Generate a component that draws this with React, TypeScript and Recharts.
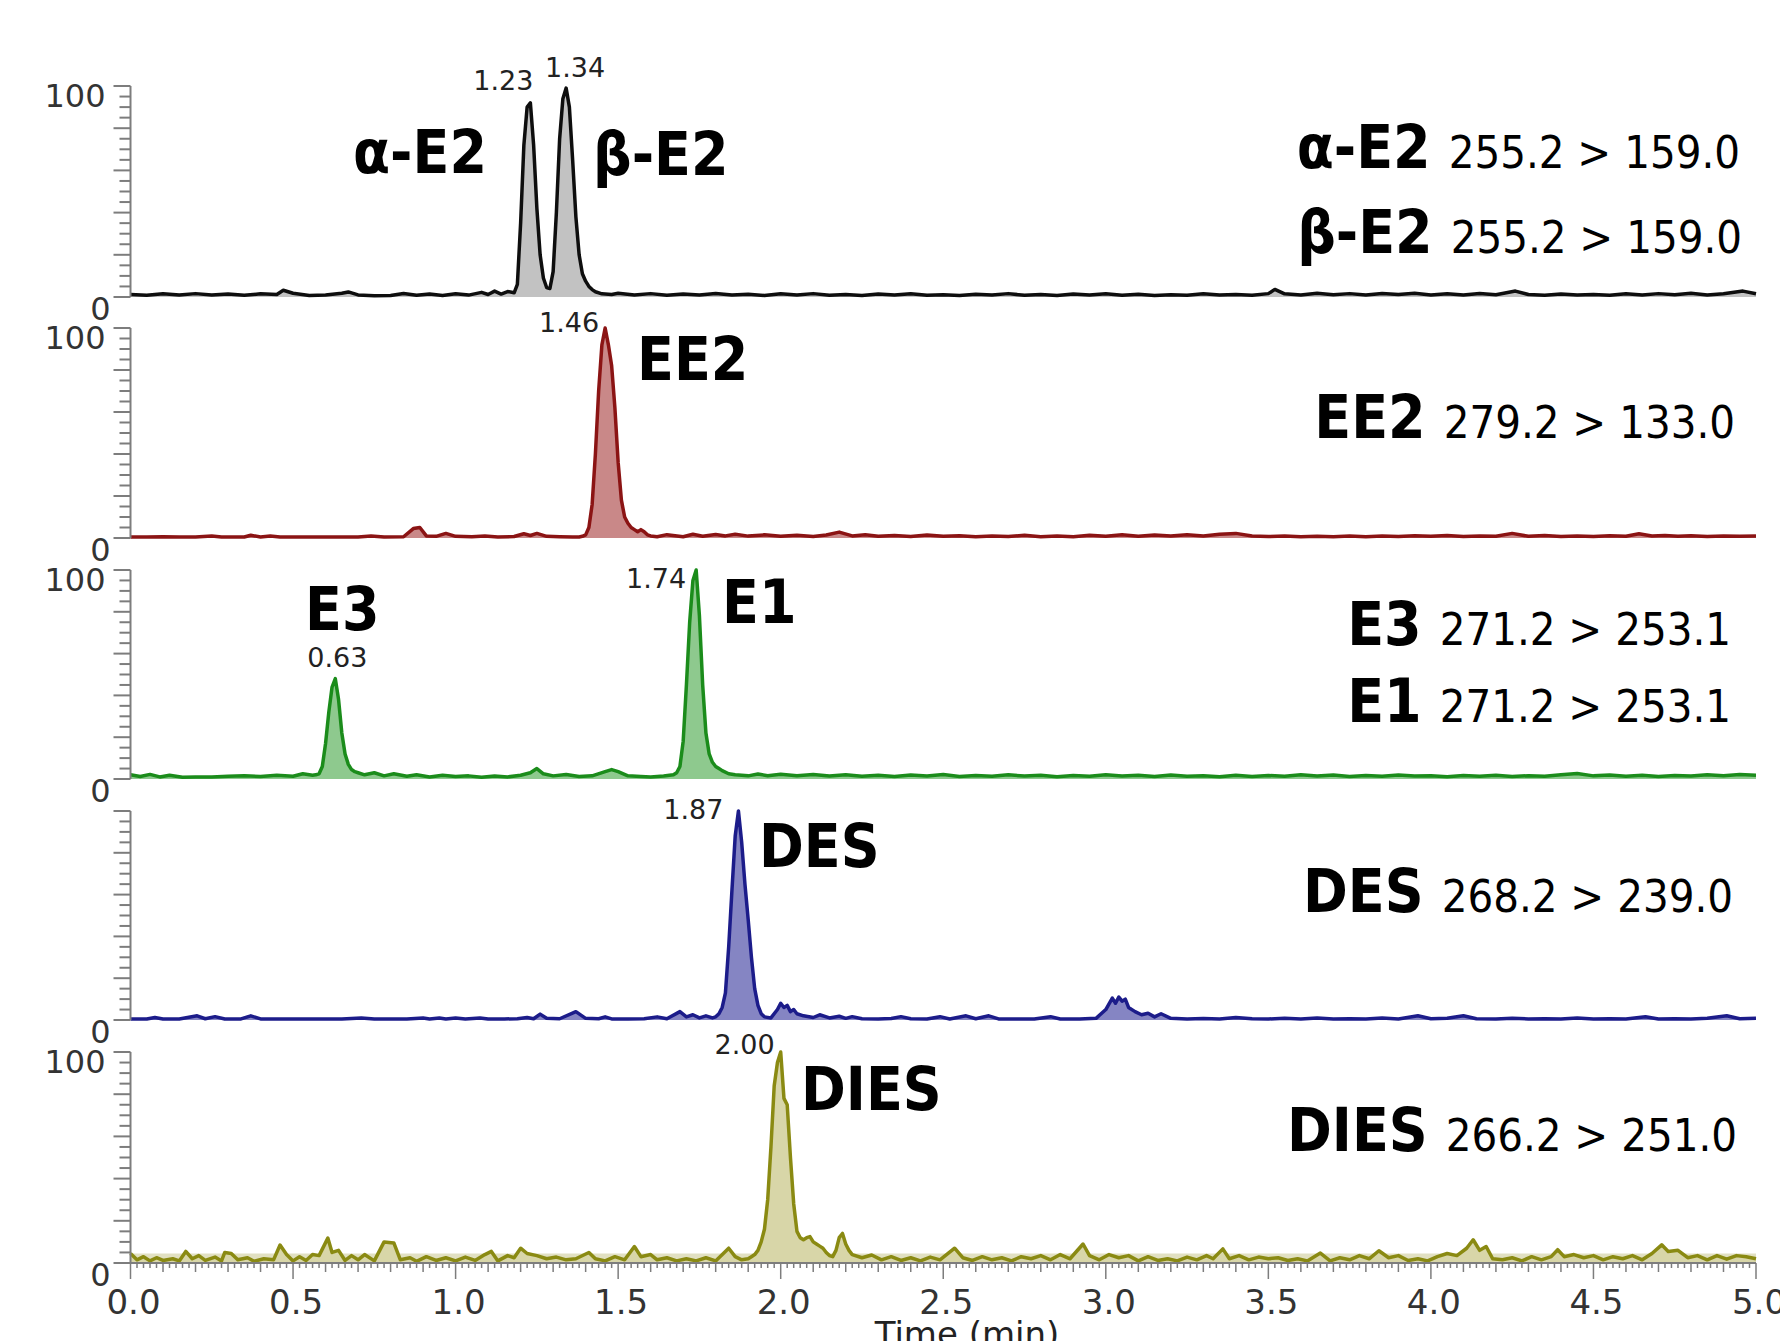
import React from 'react';
import { AreaChart, Area, XAxis, YAxis, ReferenceDot, ReferenceArea } from 'recharts';

type Pt = [number, number];

// ---- DATA: [time (min), relative intensity (%)] ----
const e2Trace: Pt[] = [
  [0, 1.2], [0.05, 0.8], [0.1, 1.5], [0.15, 0.9], [0.2, 1.6], [0.25, 1.0], [0.3, 1.4], [0.35, 0.8], [0.4, 1.5], [0.45, 1.2],
  [0.47, 3.2], [0.5, 1.8], [0.55, 0.7], [0.6, 0.9], [0.65, 1.8], [0.67, 2.4], [0.7, 1.0], [0.75, 0.6], [0.8, 0.7], [0.84, 1.7],
  [0.88, 0.8], [0.92, 1.4], [0.96, 0.7], [1.0, 1.5], [1.04, 0.9], [1.08, 2.2], [1.1, 1.2], [1.12, 2.8], [1.14, 1.4], [1.16, 2.6],
  [1.18, 2], [1.19, 6], [1.2, 35], [1.21, 72], [1.22, 90], [1.23, 92], [1.24, 72], [1.25, 42], [1.26, 20], [1.27, 9],
  [1.28, 4.5], [1.29, 4], [1.3, 12], [1.31, 40], [1.32, 75], [1.33, 94], [1.34, 99], [1.35, 90], [1.36, 65], [1.37, 38],
  [1.38, 20], [1.39, 11], [1.4, 7.5], [1.41, 5], [1.42, 3.5], [1.43, 2.5], [1.45, 1.5], [1.48, 1.2], [1.5, 1.8], [1.55, 0.9],
  [1.6, 1.6], [1.65, 0.8], [1.7, 1.4], [1.75, 1.0], [1.8, 1.7], [1.85, 0.9], [1.9, 1.3], [1.95, 0.7], [2.0, 1.5], [2.05, 1.0],
  [2.1, 1.6], [2.15, 0.8], [2.2, 1.2], [2.25, 0.7], [2.3, 1.4], [2.35, 0.9], [2.4, 1.5], [2.45, 0.8], [2.5, 1.1], [2.55, 0.7],
  [2.6, 1.3], [2.65, 0.9], [2.7, 1.6], [2.75, 0.8], [2.8, 1.2], [2.85, 0.7], [2.9, 1.4], [2.95, 1.0], [3.0, 1.5], [3.05, 0.8],
  [3.1, 1.3], [3.15, 0.7], [3.2, 1.1], [3.25, 0.8], [3.3, 1.5], [3.35, 0.9], [3.4, 1.2], [3.45, 0.8], [3.5, 1.6], [3.52, 3.6],
  [3.55, 1.5], [3.6, 1.0], [3.65, 1.8], [3.7, 1.1], [3.75, 1.6], [3.8, 0.9], [3.85, 1.7], [3.9, 1.2], [3.95, 1.8], [4.0, 1.0],
  [4.05, 1.5], [4.1, 0.9], [4.15, 1.7], [4.2, 1.1], [4.26, 2.8], [4.3, 1.2], [4.35, 0.8], [4.4, 1.4], [4.45, 0.9], [4.5, 1.2],
  [4.55, 0.8], [4.6, 1.5], [4.65, 1.0], [4.7, 1.6], [4.75, 1.1], [4.8, 1.8], [4.85, 1.0], [4.9, 1.5], [4.96, 2.8], [5.0, 1.5],
];

const ee2Trace: Pt[] = [
  [0, 0.5], [0.05, 0.5], [0.1, 0.6], [0.15, 0.5], [0.2, 0.5], [0.25, 1.0], [0.28, 0.5], [0.35, 0.5], [0.37, 1.3], [0.4, 0.5],
  [0.43, 1.0], [0.46, 0.5], [0.5, 0.5], [0.55, 0.5], [0.6, 0.5], [0.65, 0.5], [0.7, 0.5], [0.74, 1.0], [0.78, 0.5], [0.84, 0.6],
  [0.87, 4.5], [0.89, 5.0], [0.91, 1.0], [0.94, 0.8], [0.97, 2.2], [1.0, 0.8], [1.05, 0.6], [1.09, 1.0], [1.13, 0.5], [1.18, 0.7],
  [1.21, 2.0], [1.23, 1.2], [1.25, 2.2], [1.28, 0.8], [1.32, 0.6], [1.36, 0.5], [1.38, 0.5], [1.39, 0.8], [1.4, 1.5], [1.41, 5],
  [1.42, 16], [1.43, 40], [1.44, 70], [1.45, 92], [1.46, 100], [1.47, 92], [1.48, 82], [1.49, 62], [1.5, 36], [1.51, 18],
  [1.52, 10], [1.53, 7], [1.54, 5], [1.55, 4], [1.56, 3], [1.57, 4], [1.58, 3], [1.59, 1.5], [1.6, 1], [1.62, 0.6],
  [1.65, 1.6], [1.7, 0.6], [1.73, 1.8], [1.76, 0.8], [1.8, 1.7], [1.83, 1.0], [1.86, 1.8], [1.9, 0.9], [1.95, 1.5], [2.0, 0.8],
  [2.05, 1.3], [2.1, 0.7], [2.14, 1.4], [2.18, 2.8], [2.22, 1.0], [2.26, 1.6], [2.3, 0.8], [2.35, 1.2], [2.4, 0.7], [2.45, 1.4],
  [2.5, 0.8], [2.55, 1.1], [2.6, 0.6], [2.65, 1.0], [2.7, 0.7], [2.75, 1.3], [2.8, 0.6], [2.85, 1.0], [2.9, 0.6], [2.95, 1.3],
  [3.0, 0.8], [3.05, 1.5], [3.1, 0.8], [3.15, 1.4], [3.2, 0.9], [3.25, 1.6], [3.3, 1.0], [3.35, 1.8], [3.4, 2.2], [3.45, 1.0],
  [3.5, 0.7], [3.55, 1.0], [3.6, 0.6], [3.65, 0.8], [3.7, 0.6], [3.75, 0.9], [3.8, 0.6], [3.85, 1.0], [3.9, 0.7], [3.95, 1.1],
  [4.0, 0.8], [4.05, 1.2], [4.1, 0.7], [4.15, 1.0], [4.2, 0.8], [4.25, 2.2], [4.3, 0.8], [4.35, 1.2], [4.4, 0.7], [4.45, 1.0],
  [4.5, 0.7], [4.55, 1.1], [4.6, 0.8], [4.64, 2.0], [4.68, 1.0], [4.72, 1.2], [4.76, 0.8], [4.8, 1.1], [4.85, 0.7], [4.9, 1.0],
  [4.95, 0.8], [5.0, 1.0],
];

const e3e1Trace: Pt[] = [
  [0, 2.0], [0.03, 1.2], [0.06, 2.2], [0.09, 1.0], [0.12, 1.8], [0.16, 0.8], [0.2, 1.0], [0.25, 0.9], [0.3, 1.3], [0.35, 1.5],
  [0.4, 1.2], [0.45, 1.8], [0.5, 1.3], [0.53, 2.5], [0.56, 1.8], [0.57, 2], [0.58, 2.5], [0.59, 6], [0.6, 17], [0.61, 32],
  [0.62, 44], [0.63, 48], [0.64, 38], [0.65, 22], [0.66, 12], [0.67, 7], [0.68, 4.5], [0.69, 3.5], [0.7, 3], [0.72, 2.0],
  [0.75, 3.0], [0.78, 1.5], [0.81, 2.5], [0.85, 1.3], [0.88, 2.0], [0.92, 1.0], [0.96, 1.8], [1.0, 1.2], [1.04, 1.5], [1.08, 0.8],
  [1.12, 1.4], [1.16, 1.0], [1.2, 1.8], [1.23, 3.0], [1.25, 5.0], [1.27, 2.5], [1.3, 1.5], [1.34, 2.2], [1.38, 1.2], [1.42, 1.5],
  [1.46, 3.5], [1.48, 4.5], [1.5, 3.5], [1.53, 1.5], [1.57, 1.2], [1.6, 1.0], [1.64, 1.4], [1.67, 2], [1.68, 3], [1.69, 6],
  [1.7, 18], [1.71, 45], [1.72, 75], [1.73, 95], [1.74, 100], [1.75, 78], [1.76, 45], [1.77, 22], [1.78, 12], [1.79, 8],
  [1.8, 6], [1.81, 5], [1.82, 4], [1.84, 2.5], [1.86, 2], [1.9, 1.5], [1.93, 2.4], [1.96, 1.6], [2.0, 2.3], [2.05, 1.5],
  [2.1, 2.2], [2.15, 1.4], [2.2, 2.0], [2.25, 1.3], [2.3, 1.8], [2.35, 1.2], [2.4, 1.9], [2.45, 1.4], [2.5, 2.1], [2.55, 1.2],
  [2.6, 1.7], [2.65, 1.3], [2.7, 2.0], [2.75, 1.4], [2.8, 1.8], [2.85, 1.1], [2.9, 1.7], [2.95, 1.3], [3.0, 2.0], [3.05, 1.4],
  [3.1, 1.8], [3.15, 1.2], [3.2, 1.9], [3.25, 1.3], [3.3, 1.6], [3.35, 1.1], [3.4, 1.8], [3.45, 1.2], [3.5, 1.7], [3.55, 1.3],
  [3.6, 2.0], [3.65, 1.4], [3.7, 1.9], [3.75, 1.2], [3.8, 1.7], [3.85, 1.3], [3.9, 1.9], [3.95, 1.4], [4.0, 1.6], [4.05, 1.1],
  [4.1, 1.7], [4.15, 1.3], [4.2, 1.8], [4.25, 1.2], [4.3, 1.6], [4.35, 1.3], [4.4, 2.0], [4.45, 2.6], [4.5, 1.5], [4.55, 1.9],
  [4.6, 1.3], [4.65, 1.8], [4.7, 1.2], [4.75, 1.7], [4.8, 1.4], [4.85, 2.0], [4.9, 1.5], [4.95, 2.1], [5.0, 1.8],
];

const desTrace: Pt[] = [
  [0, 0.5], [0.05, 0.5], [0.075, 1.2], [0.1, 0.5], [0.15, 0.5], [0.205, 2.0], [0.23, 0.6], [0.26, 1.6], [0.29, 0.5], [0.34, 0.5],
  [0.37, 2.0], [0.4, 0.5], [0.45, 0.5], [0.5, 0.5], [0.55, 0.5], [0.6, 0.5], [0.65, 0.5], [0.71, 1.0], [0.75, 0.5], [0.8, 0.5],
  [0.85, 0.5], [0.9, 1.0], [0.92, 0.5], [0.95, 1.0], [0.97, 0.5], [1.0, 1.0], [1.03, 0.5], [1.075, 1.0], [1.1, 0.5], [1.15, 0.5],
  [1.19, 0.6], [1.22, 1.2], [1.24, 0.6], [1.26, 2.8], [1.28, 0.8], [1.32, 0.6], [1.37, 4.0], [1.4, 0.8], [1.44, 0.6], [1.46, 1.5],
  [1.48, 0.5], [1.53, 0.5], [1.58, 0.6], [1.62, 1.5], [1.65, 0.6], [1.69, 4.0], [1.71, 1.5], [1.73, 2.5], [1.75, 1.0], [1.77, 2.0],
  [1.79, 1.0], [1.8, 1.5], [1.81, 3], [1.82, 6], [1.83, 13], [1.84, 35], [1.85, 62], [1.86, 88], [1.87, 100], [1.88, 85],
  [1.89, 65], [1.9, 48], [1.91, 30], [1.92, 15], [1.93, 7], [1.94, 3], [1.95, 1.5], [1.97, 1], [1.99, 5], [2.0, 8],
  [2.01, 6], [2.02, 7], [2.03, 4], [2.04, 5], [2.05, 3], [2.07, 2], [2.1, 1.2], [2.12, 2.5], [2.15, 1.0], [2.18, 1.8],
  [2.2, 0.8], [2.22, 1.6], [2.25, 0.6], [2.3, 0.5], [2.34, 0.7], [2.37, 1.6], [2.4, 0.6], [2.45, 0.5], [2.49, 1.6], [2.52, 0.5],
  [2.57, 2.0], [2.6, 0.6], [2.64, 2.0], [2.67, 0.5], [2.72, 0.5], [2.78, 0.5], [2.83, 1.6], [2.86, 0.5], [2.92, 0.5], [2.97, 0.8],
  [3.0, 5.0], [3.02, 10.5], [3.03, 8.0], [3.04, 11.0], [3.05, 9.0], [3.06, 10.0], [3.07, 6.0], [3.09, 4.0], [3.11, 2.5], [3.13, 3.2],
  [3.15, 1.5], [3.17, 3.0], [3.2, 0.8], [3.25, 0.5], [3.3, 0.7], [3.35, 0.5], [3.4, 1.2], [3.45, 0.6], [3.5, 0.5], [3.55, 0.8],
  [3.6, 0.5], [3.65, 1.0], [3.7, 0.5], [3.75, 0.6], [3.8, 0.5], [3.85, 1.0], [3.9, 0.5], [3.96, 2.0], [4.0, 0.6], [4.05, 0.8],
  [4.1, 2.0], [4.14, 0.6], [4.2, 0.5], [4.25, 0.8], [4.3, 0.5], [4.35, 0.6], [4.4, 0.5], [4.45, 1.0], [4.5, 0.5], [4.55, 0.6],
  [4.6, 0.5], [4.66, 1.6], [4.7, 0.5], [4.75, 0.6], [4.8, 0.5], [4.85, 0.8], [4.91, 2.0], [4.95, 0.6], [5.0, 0.8],
];

const diesTrace: Pt[] = [
  [0, 4.5], [0.02, 1.5], [0.04, 3.0], [0.06, 1.0], [0.08, 2.5], [0.1, 1.2], [0.13, 2.0], [0.15, 1.0], [0.17, 5.5], [0.19, 2.0],
  [0.21, 3.5], [0.23, 1.2], [0.26, 2.8], [0.28, 1.0], [0.29, 5.0], [0.31, 4.5], [0.33, 1.5], [0.36, 2.5], [0.38, 0.8], [0.41, 2.0],
  [0.44, 1.5], [0.46, 8.5], [0.48, 4.0], [0.5, 1.0], [0.52, 3.0], [0.54, 1.2], [0.56, 4.0], [0.58, 3.5], [0.607, 11.8], [0.62, 5.0],
  [0.64, 6.0], [0.66, 1.2], [0.68, 3.5], [0.7, 1.5], [0.72, 4.0], [0.75, 1.0], [0.78, 10.0], [0.81, 9.5], [0.83, 1.5], [0.86, 2.5],
  [0.88, 0.8], [0.91, 3.0], [0.94, 1.2], [0.97, 2.5], [1.0, 1.0], [1.03, 2.8], [1.06, 1.2], [1.09, 4.0], [1.11, 5.5], [1.13, 1.0],
  [1.16, 3.5], [1.18, 2.5], [1.2, 7.0], [1.22, 4.5], [1.25, 3.5], [1.28, 2.0], [1.31, 2.8], [1.34, 1.5], [1.37, 2.0], [1.41, 5.0],
  [1.43, 2.0], [1.46, 1.0], [1.49, 3.0], [1.52, 1.5], [1.55, 7.8], [1.57, 3.0], [1.6, 4.0], [1.62, 1.5], [1.65, 2.5], [1.68, 1.0],
  [1.71, 2.0], [1.74, 1.0], [1.77, 2.5], [1.8, 1.0], [1.84, 7.0], [1.86, 3.0], [1.88, 1.5], [1.9, 2], [1.91, 3], [1.92, 4],
  [1.93, 6], [1.94, 10], [1.95, 16], [1.96, 30], [1.97, 55], [1.98, 84], [1.99, 95], [2.0, 100], [2.01, 78], [2.02, 75],
  [2.03, 50], [2.04, 28], [2.05, 15], [2.06, 12], [2.07, 11], [2.08, 12], [2.09, 12.5], [2.1, 10], [2.11, 9], [2.12, 8],
  [2.13, 7], [2.14, 5], [2.15, 3.5], [2.16, 3], [2.17, 6], [2.18, 12], [2.19, 14], [2.2, 9], [2.21, 6], [2.22, 4],
  [2.25, 2.5], [2.28, 3.8], [2.31, 1.5], [2.34, 3.0], [2.37, 1.2], [2.4, 2.5], [2.43, 1.0], [2.46, 2.8], [2.49, 1.5], [2.535, 7.0],
  [2.56, 2.5], [2.59, 1.2], [2.62, 3.0], [2.65, 1.5], [2.68, 2.5], [2.71, 1.0], [2.74, 3.0], [2.77, 2.0], [2.8, 3.5], [2.83, 1.5],
  [2.86, 4.0], [2.89, 2.0], [2.93, 9.0], [2.95, 3.5], [2.98, 1.5], [3.01, 4.0], [3.04, 2.5], [3.07, 3.5], [3.1, 1.0], [3.13, 3.0],
  [3.16, 1.2], [3.19, 2.0], [3.22, 1.0], [3.25, 2.8], [3.28, 1.5], [3.31, 3.5], [3.33, 2.0], [3.36, 6.7], [3.38, 2.0], [3.41, 3.5],
  [3.44, 1.5], [3.47, 2.8], [3.5, 2.0], [3.53, 2.5], [3.56, 1.2], [3.59, 2.0], [3.62, 1.0], [3.66, 4.7], [3.69, 1.0], [3.72, 2.5],
  [3.75, 1.5], [3.78, 3.5], [3.81, 2.0], [3.84, 5.8], [3.87, 2.5], [3.9, 3.5], [3.93, 1.2], [3.96, 2.0], [3.99, 1.0], [4.02, 3.0],
  [4.05, 4.5], [4.08, 3.5], [4.11, 7.0], [4.13, 11.0], [4.15, 6.0], [4.17, 7.8], [4.19, 2.0], [4.22, 1.5], [4.25, 2.5], [4.28, 1.0],
  [4.31, 3.0], [4.34, 1.5], [4.37, 3.0], [4.39, 6.3], [4.41, 3.0], [4.44, 4.0], [4.47, 2.5], [4.5, 3.5], [4.53, 1.5], [4.56, 3.0],
  [4.59, 2.0], [4.62, 3.5], [4.65, 1.5], [4.68, 4.5], [4.71, 8.6], [4.73, 5.5], [4.76, 6.0], [4.79, 2.5], [4.82, 3.5], [4.85, 1.5],
  [4.88, 3.5], [4.91, 1.8], [4.94, 3.5], [4.97, 3.0], [5.0, 2.0],
];

// peak retention-time annotations: [time, intensity, label]
const e2Peaks: [number, number, string][] = [[1.23, 92, '1.23'], [1.34, 99, '1.34']];
const ee2Peaks: [number, number, string][] = [[1.46, 100, '1.46']];
const e3e1Peaks: [number, number, string][] = [[0.63, 48, '0.63'], [1.74, 100, '1.74']];
const desPeaks: [number, number, string][] = [[1.87, 100, '1.87']];
const diesPeaks: [number, number, string][] = [[2.0, 100, '2.00']];

const yTicks = [0, 5, 10, 15, 20, 25, 30, 35, 40, 45, 50, 55, 60, 65, 70, 75, 80, 85, 90, 95, 100];
const xLabelTicks = [0, 0.5, 1, 1.5, 2, 2.5, 3, 3.5, 4, 4.5, 5];
const xMinorTicks = Array.from({ length: 251 }, (_, i) => Math.round(i * 2) / 100);

// transitions shown at right
const transitions: [string, string][][] = [
  [['α-E2', '255.2 > 159.0'], ['β-E2', '255.2 > 159.0']],
  [['EE2', '279.2 > 133.0']],
  [['E3', '271.2 > 253.1'], ['E1', '271.2 > 253.1']],
  [['DES', '268.2 > 239.0']],
  [['DIES', '266.2 > 251.0']],
];

// ---- LAYOUT / STYLE ----
const W = 1780;
const PLOT_LEFT = 130.5;
const PLOT_RIGHT_MARGIN = 24;
const MT = 40;
const AXIS_GRAY = '#7d7d7d';
const NUM_FONT = "'DejaVu Sans', Verdana, sans-serif";
const BOLD_FONT = "'DejaVu Sans Condensed', 'DejaVu Sans', sans-serif";

type PeakOff = { dx: number; dy: number; anchor: 'start' | 'middle' | 'end' };

const panels = [
  { id: 'e2', trace: e2Trace, peaks: e2Peaks, top: 86, h: 211, stroke: '#0e0e0e', fill: '#c2c2c2', showTop: true,
    off: [{ dx: 3, dy: -13, anchor: 'end' }, { dx: 9, dy: -11, anchor: 'middle' }] as PeakOff[] },
  { id: 'ee2', trace: ee2Trace, peaks: ee2Peaks, top: 328, h: 210, stroke: '#8b1414', fill: '#c98888', showTop: true,
    off: [{ dx: -6, dy: 4, anchor: 'end' }] as PeakOff[] },
  { id: 'e3e1', trace: e3e1Trace, peaks: e3e1Peaks, top: 570, h: 209, stroke: '#1b8c1b', fill: '#8ec98e', showTop: true,
    off: [{ dx: 2, dy: -12, anchor: 'middle' }, { dx: -10, dy: 18, anchor: 'end' }] as PeakOff[] },
  { id: 'des', trace: desTrace, peaks: desPeaks, top: 811, h: 209, stroke: '#1c1c8a', fill: '#8585c3', showTop: false,
    off: [{ dx: -15, dy: 8, anchor: 'end' }] as PeakOff[] },
  { id: 'dies', trace: diesTrace, peaks: diesPeaks, top: 1052, h: 211, stroke: '#8a8a12', fill: '#d8d6a8', showTop: true,
    off: [{ dx: -6, dy: 2, anchor: 'end' }] as PeakOff[] },
];

const compoundLabels: [string, number, number][] = [
  ['α-E2', 353, 173], ['β-E2', 593, 175], ['EE2', 637, 380], ['E3', 305, 630],
  ['E1', 722, 623], ['DES', 759, 867], ['DIES', 801, 1110],
];
const transitionPos: [number, number][][] = [
  [[1740, 168], [1742, 253]],
  [[1735, 438]],
  [[1731, 645], [1731, 722]],
  [[1733, 912]],
  [[1737, 1151]],
];

const YTick = (props: any) => {
  const { x, y, payload, showTop } = props;
  const v = payload.value;
  const len = v % 20 === 0 ? 17 : 11;
  return (
    <g>
      <line x1={x - len} x2={x} y1={y} y2={y} stroke={AXIS_GRAY} strokeWidth={2} />
      {v === 100 && showTop && (
        <text x={x - 25} y={y + 21} textAnchor="end" fontFamily={NUM_FONT} fontSize={32} fill="#333">100</text>
      )}
      {v === 0 && (
        <text x={x - 20} y={y + 23} textAnchor="end" fontFamily={NUM_FONT} fontSize={32} fill="#333">0</text>
      )}
    </g>
  );
};

const XTick = (props: any) => {
  const { x, y, payload } = props;
  const n = Math.round(payload.value * 50);
  const major = n % 25 === 0;
  const mid = n % 5 === 0;
  const len = major ? 16 : mid ? 9 : 5;
  const isLabel = xLabelTicks.some((t) => Math.abs(t - payload.value) < 1e-6);
  return (
    <g>
      <line x1={x} x2={x} y1={y} y2={y + len} stroke={AXIS_GRAY} strokeWidth={1.5} />
      {isLabel && (
        <text x={x + 3} y={y + 51} textAnchor="middle" fontFamily={NUM_FONT} fontSize={34} fill="#333">
          {payload.value.toFixed(1)}
        </text>
      )}
    </g>
  );
};

const Panel = ({ p, last }: { p: (typeof panels)[number]; last: boolean }) => {
  const rows = p.trace.map(([t, v]) => ({ t, v }));
  const bottom = last ? 90 : 44;
  const height = MT + p.h + bottom;
  return (
    <div style={{ position: 'absolute', left: 0, top: p.top - MT }}>
      <AreaChart width={W} height={height} data={rows} margin={{ top: MT, right: PLOT_RIGHT_MARGIN, left: 0, bottom: last ? 0 : bottom }}>
        {p.id === 'dies' && (
          <ReferenceArea x1={0} x2={5} y1={0} y2={4.5} fill="#e1e0c2" fillOpacity={1} stroke="none" ifOverflow="visible" />
        )}
        <XAxis
          type="number"
          dataKey="t"
          domain={[0, 5]}
          ticks={last ? xMinorTicks : xLabelTicks}
          interval={0}
          axisLine={{ stroke: AXIS_GRAY, strokeWidth: 2 }}
          tickLine={false}
          tickSize={0}
          tickMargin={0}
          tick={last ? <XTick /> : false}
          height={last ? bottom : 0}
        />
        <YAxis
          type="number"
          domain={[0, 100]}
          ticks={yTicks}
          interval={0}
          width={PLOT_LEFT}
          axisLine={{ stroke: AXIS_GRAY, strokeWidth: 2 }}
          tickLine={false}
          tickSize={0}
          tickMargin={0}
          tick={<YTick showTop={p.showTop} />}
        />
        <Area
          type="linear"
          dataKey="v"
          stroke={p.stroke}
          strokeWidth={3.5}
          strokeLinejoin="round"
          fill={p.fill}
          fillOpacity={1}
          dot={false}
          activeDot={false}
          isAnimationActive={false}
        />
        {p.peaks.map(([t, v, label], i) => {
          const o = p.off[i];
          return (
            <ReferenceDot
              key={label}
              x={t}
              y={v}
              r={1}
              ifOverflow="visible"
              shape={(sp: any) => (
                <text x={sp.cx + o.dx} y={sp.cy + o.dy} textAnchor={o.anchor} fontFamily={NUM_FONT} fontSize={27} fill="#222">
                  {label}
                </text>
              )}
            />
          );
        })}
      </AreaChart>
    </div>
  );
};

export default function App() {
  return (
    <div style={{ position: 'absolute', left: 0, top: 0, width: W, height: 1341, overflow: 'hidden', background: '#fff' }}>
      {panels.map((p, i) => (
        <Panel key={p.id} p={p} last={i === panels.length - 1} />
      ))}
      <svg width={W} height={1341} style={{ position: 'absolute', left: 0, top: 0, pointerEvents: 'none' }}>
        {compoundLabels.map(([txt, x, y]) => (
          <text key={txt} x={x} y={y} fontFamily={BOLD_FONT} fontWeight="bold" fontSize={60} fill="#000">{txt}</text>
        ))}
        {transitions.map((rowsT, pi) =>
          rowsT.map(([name, trans], ri) => {
            const [x, y] = transitionPos[pi][ri];
            return (
              <text key={name + ri} x={x} y={y} textAnchor="end" fill="#000">
                <tspan fontFamily={BOLD_FONT} fontWeight="bold" fontSize={60}>{name}</tspan>
                <tspan dx={18} fontFamily={BOLD_FONT} fontSize={45}>{trans}</tspan>
              </text>
            );
          })
        )}
        <text x={967} y={1346} textAnchor="middle" fontFamily={NUM_FONT} fontSize={34} fill="#222">Time (min)</text>
      </svg>
    </div>
  );
}
